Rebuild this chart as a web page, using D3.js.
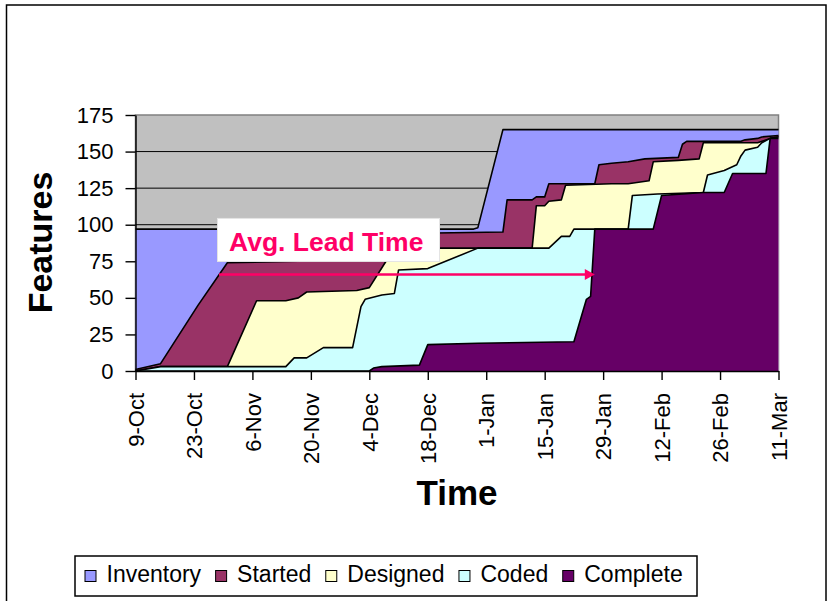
<!DOCTYPE html>
<html>
<head>
<meta charset="utf-8">
<script src="https://cdn.jsdelivr.net/npm/d3@7"></script>
<style>
body{margin:0;background:#fff;}
svg{display:block;font-family:"Liberation Sans",Arial,sans-serif;}
</style>
</head>
<body>
<script>
var WIDTH = 827, HEIGHT = 601;
var PLOT = {left:135.5, top:115, right:778.5, bottom:371};

// cumulative features that reached each stage
var inventoryDates = ["2003-10-09","2003-12-29","2003-12-30","2004-01-05","2004-03-11"];
var inventory      = [97, 97, 98, 165, 165];

var startedDates = ["2003-10-09","2003-10-15","2003-10-24","2003-10-31","2003-11-17","2003-11-18","2004-01-05","2004-01-06",
	"2004-01-12","2004-01-13","2004-01-15","2004-01-16","2004-01-27","2004-01-28","2004-01-31","2004-02-04","2004-02-08",
	"2004-02-16","2004-02-17","2004-02-18","2004-03-02","2004-03-03","2004-03-06","2004-03-07","2004-03-11"];
var started      = [1, 5, 45, 74, 75, 93, 95, 117, 117, 119, 119, 128, 128, 141, 142, 143, 145, 146, 155, 157, 157, 158, 159, 160, 161];

var designedDates = ["2003-10-09","2003-10-15","2003-10-31","2003-11-07","2003-11-14","2003-11-17","2003-11-19","2003-12-01",
	"2003-12-04","2003-12-08","2003-12-10","2004-01-12","2004-01-13","2004-01-15","2004-01-16","2004-01-19","2004-01-20",
	"2004-01-31","2004-02-04","2004-02-09","2004-02-10","2004-02-16","2004-02-21","2004-02-22","2004-03-06","2004-03-09","2004-03-11"];
var designed      = [0, 3, 3, 48, 48, 50, 54, 55, 57, 75, 84, 84, 113, 113, 116, 117, 127, 128, 128, 130, 143, 144, 145, 156, 156, 159, 160];

var codedDates = ["2003-10-09","2003-10-15","2003-11-14","2003-11-16","2003-11-19","2003-11-23","2003-11-30","2003-12-02",
	"2003-12-03","2003-12-07","2003-12-10","2003-12-11","2003-12-18","2003-12-30","2004-01-16","2004-01-19","2004-01-21",
	"2004-01-22","2004-02-04","2004-02-05","2004-02-11","2004-02-22","2004-02-23","2004-02-27","2004-03-01","2004-03-02",
	"2004-03-03","2004-03-06","2004-03-07","2004-03-09","2004-03-11"];
var coded      = [0, 3, 3, 9, 9, 16, 16, 44, 49, 52, 53, 69, 70, 84, 84, 92, 92, 97, 97, 120, 121, 122, 134, 137, 141, 147, 151, 153, 156, 159, 160];

var completeDates = ["2003-10-09","2003-12-04","2003-12-05","2003-12-07","2003-12-16","2003-12-18","2003-12-30","2004-01-22",
	"2004-01-25","2004-01-26","2004-01-27","2004-02-10","2004-02-12","2004-02-22","2004-02-27","2004-02-29","2004-03-08",
	"2004-03-09","2004-03-11"];
var complete      = [0, 0, 2, 3, 4, 18, 19, 20, 49, 51, 97, 97, 120, 122, 122, 135, 135, 159, 159];

var seriesNames  = ["Inventory","Started","Designed","Coded","Complete"];
var seriesColors = ["#9999ff","#993366","#ffffcc","#ccffff","#660066"];
var seriesDates  = [inventoryDates, startedDates, designedDates, codedDates, completeDates];
var seriesValues = [inventory, started, designed, coded, complete];

var yTicks = [0,25,50,75,100,125,150,175];
var xTickDates = ["2003-10-09","2003-10-23","2003-11-06","2003-11-20","2003-12-04","2003-12-18",
	"2004-01-01","2004-01-15","2004-01-29","2004-02-12","2004-02-26","2004-03-11"];

var leadText = "Avg. Lead Time", leadLevel = 66, leadFrom = "2003-10-29", leadTo = "2004-01-27";

var parse = d3.timeParse("%Y-%m-%d");

var svg = d3.select("body").append("svg")
	.attr("width", WIDTH)
	.attr("height", HEIGHT);

// chart frame
svg.append("rect")
	.attr("x", 6.5).attr("y", 5)
	.attr("width", 819.5).attr("height", 640)
	.attr("fill", "#fff").attr("stroke", "#000").attr("stroke-width", 1.5);

var xScale = d3.scaleTime()
	.domain([parse(xTickDates[0]), parse(xTickDates[xTickDates.length-1])])
	.range([PLOT.left, PLOT.right]);
var yScale = d3.scaleLinear().domain([0,175]).range([PLOT.bottom, PLOT.top]);

// plot area
svg.append("rect")
	.attr("x", PLOT.left).attr("y", PLOT.top)
	.attr("width", PLOT.right - PLOT.left).attr("height", PLOT.bottom - PLOT.top)
	.attr("fill", "#c0c0c0").attr("stroke", "#808080").attr("stroke-width", 1.5);

svg.append("g").selectAll("line").data(yTicks.slice(1, -1)).enter()
	.append("line")
	.attr("x1", PLOT.left).attr("x2", PLOT.right)
	.attr("y1", function(d){return yScale(d)}).attr("y2", function(d){return yScale(d)})
	.attr("stroke", "#000").attr("stroke-width", 1);

var area = d3.area()
	.x(function(d){return xScale(d.date)})
	.y0(yScale(0))
	.y1(function(d){return yScale(d.value)});
var line = d3.line()
	.x(function(d){return xScale(d.date)})
	.y(function(d){return yScale(d.value)});

seriesNames.forEach(function(name, i){
	var pts = seriesDates[i].map(function(s, j){return {date: parse(s), value: seriesValues[i][j]}});
	svg.append("path").datum(pts)
		.attr("d", area)
		.attr("fill", seriesColors[i]);
	svg.append("path").datum(pts)
		.attr("d", line)
		.attr("fill", "none")
		.attr("stroke", "#000")
		.attr("stroke-width", 1.6)
		.attr("stroke-linejoin", "round");
});

// axes
var yAxis = svg.append("g")
	.attr("transform", "translate(" + PLOT.left + ",0)")
	.call(d3.axisLeft(yScale).tickValues(yTicks).tickSize(10).tickPadding(12).tickSizeOuter(0));
yAxis.selectAll("text").style("font-size", "22px").attr("fill", "#000");
yAxis.selectAll("line,path").attr("stroke", "#000").attr("stroke-width", 1.4);

var xAxis = svg.append("g")
	.attr("transform", "translate(0," + PLOT.bottom + ")")
	.call(d3.axisBottom(xScale)
		.tickValues(xTickDates.map(parse))
		.tickFormat(d3.timeFormat("%-d-%b"))
		.tickSize(9).tickSizeOuter(0));
xAxis.selectAll("line,path").attr("stroke", "#000").attr("stroke-width", 1.4);
xAxis.selectAll("text")
	.style("font-size", "22px").attr("fill", "#000")
	.attr("transform", "rotate(-90)")
	.attr("x", -22).attr("y", 0).attr("dy", "0.35em")
	.style("text-anchor", "end");

// axis titles
svg.append("text")
	.attr("transform", "translate(52,242.5) rotate(-90)")
	.attr("text-anchor", "middle")
	.style("font-size", "34px").style("font-weight", "bold")
	.text("Features");
svg.append("text")
	.attr("x", (PLOT.left + PLOT.right) / 2).attr("y", 505)
	.attr("text-anchor", "middle")
	.style("font-size", "35px").style("font-weight", "bold")
	.text("Time");

// lead time annotation
var ly = yScale(leadLevel), lx1 = xScale(parse(leadFrom)), lx2 = xScale(parse(leadTo));
svg.append("line")
	.attr("x1", lx1).attr("x2", lx2 - 8)
	.attr("y1", ly).attr("y2", ly)
	.attr("stroke", "#ff0066").attr("stroke-width", 2.6);
svg.append("path")
	.attr("d", "M" + lx2 + "," + ly + "L" + (lx2 - 10) + "," + (ly - 5.5) + "L" + (lx2 - 10) + "," + (ly + 5.5) + "Z")
	.attr("fill", "#ff0066");

var boxX = lx1 - 1.5, boxY = ly - 56;
svg.append("rect")
	.attr("x", boxX).attr("y", boxY)
	.attr("width", 222).attr("height", 43)
	.attr("fill", "#fff").attr("stroke", "#e4e4e4").attr("stroke-width", 1);
svg.append("text")
	.attr("x", boxX + 11.5).attr("y", boxY + 32.5)
	.attr("fill", "#ff0066")
	.style("font-size", "26.5px").style("font-weight", "bold")
	.text(leadText);

// legend
var legend = svg.append("g");
legend.append("rect")
	.attr("x", 75).attr("y", 556)
	.attr("width", 622).attr("height", 40)
	.attr("fill", "#fff").attr("stroke", "#000").attr("stroke-width", 1.5);
var lxPos = 85;
seriesNames.forEach(function(name, i){
	legend.append("rect")
		.attr("x", lxPos).attr("y", 570.5)
		.attr("width", 11).attr("height", 11)
		.attr("fill", seriesColors[i]).attr("stroke", "#000").attr("stroke-width", 1);
	var t = legend.append("text")
		.attr("x", lxPos + 21.5).attr("y", 582)
		.style("font-size", "23px")
		.text(name);
	lxPos += 21.5 + t.node().getComputedTextLength() + 14.5;
});
</script>
</body>
</html>
